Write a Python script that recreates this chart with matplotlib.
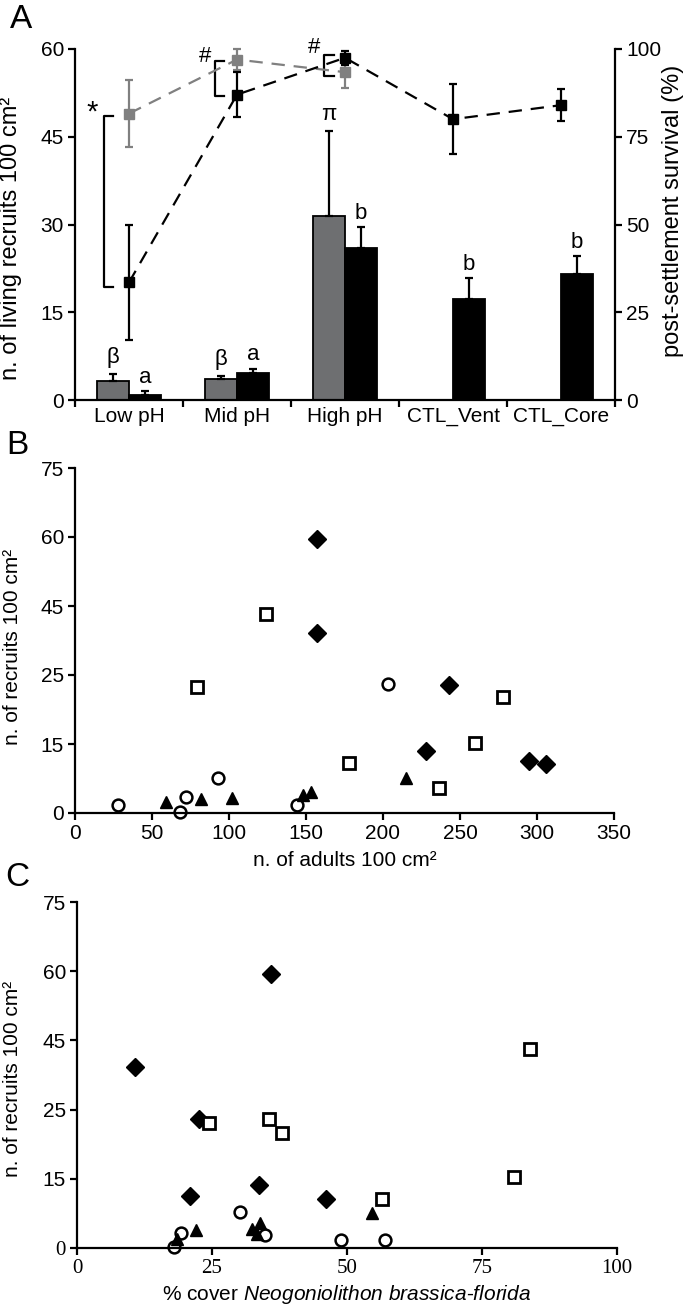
import matplotlib as mpl
mpl.use('Agg')
import matplotlib.pyplot as plt
from matplotlib import font_manager
import numpy as np

plt.rcParams['font.family'] = ['Liberation Sans', 'DejaVu Sans']
plt.rcParams['mathtext.fontset'] = 'custom'
plt.rcParams['mathtext.rm'] = 'Liberation Sans'
plt.rcParams['mathtext.it'] = 'Liberation Sans:italic'

installed = {f.name for f in font_manager.fontManager.ttflist}
narrow = 'Liberation Sans Narrow' if 'Liberation Sans Narrow' in installed else 'Liberation Sans'

# ---- panel A data ----
sites = ['Low pH', 'Mid pH', 'High pH', 'CTL_Vent', 'CTL_Core']
recruits_gray = [3.3, 3.6, 31.5]          # Low/Mid/High pH
recruits_gray_err = [1.1, 0.5, 14.5]
recruits_black = [0.9, 4.6, 26.0, 17.3, 21.5]
recruits_black_err = [0.6, 0.7, 3.5, 3.5, 3.1]
surv_gray = [81.6, 97.0, 93.4]
surv_gray_err = [9.5, 3.0, 4.5]
surv_black = [33.5, 87.0, 97.5, 80.0, 84.0]
surv_black_err = [16.5, 6.5, 2.0, 10.0, 4.5]
letters_gray = ['β', 'β', 'π']
letters_black = ['a', 'a', 'b', 'b', 'b']

# ---- panel B data (x = adults, y = recruits) ----
b_circ_x = [28, 68, 72, 93, 144, 203]
b_circ_y = [1.7, 0.2, 3.4, 7.7, 1.7, 28.0]
b_tri_x = [59, 81.5, 102, 148, 153, 215]
b_tri_y = [2.5, 3.0, 3.3, 4.0, 4.5, 7.6]
b_dia_x = [157, 157, 243, 228, 295, 306]
b_dia_y = [59.5, 39.2, 27.8, 13.5, 11.4, 10.7]
b_sq_x = [124, 79, 178, 236.5, 260, 278]
b_sq_y = [43.2, 27.5, 10.9, 5.4, 15.3, 25.2]

# ---- panel C data (x = % cover, y = recruits) ----
c_dia_x = [10.7, 35.9, 22.6, 20.9, 33.7, 46.2]
c_dia_y = [39.2, 59.4, 27.9, 11.2, 13.6, 10.6]
c_sq_x = [24.5, 35.5, 38.0, 56.4, 81.0, 83.9]
c_sq_y = [27.2, 28.0, 25.0, 10.7, 15.3, 43.1]
c_circ_x = [17.9, 19.2, 30.2, 34.8, 48.9, 57.1]
c_circ_y = [0.2, 3.3, 7.8, 2.9, 1.7, 1.7]
c_tri_x = [18.6, 22.0, 32.4, 33.9, 33.3, 54.6]
c_tri_y = [2.0, 3.8, 4.2, 5.4, 3.0, 7.6]

scatter_yticks = [0, 15, 30, 45, 60, 75]
scatter_ylabels = ['0', '15', '25', '45', '60', '75']

GRAY_BAR = '#6e6f71'
GRAY_LINE = '#808080'
W, H = 685, 1311
TICK_FS = 15

fig = plt.figure(figsize=(W / 100, H / 100), dpi=100)

def frac(left, right, top, bottom):
    return [left / W, 1 - bottom / H, (right - left) / W, (bottom - top) / H]

def style_axis(ax):
    for s in ['top', 'right']:
        ax.spines[s].set_visible(False)
    for s in ['left', 'bottom']:
        ax.spines[s].set_linewidth(1.6)
    ax.tick_params(width=1.6, length=5, direction='out', labelsize=TICK_FS, pad=3)
    for lab in ax.get_yticklabels():
        lab.set_fontfamily(narrow)

# ================= panel A =================
axA = fig.add_axes(frac(75, 615, 49, 400))
x = np.arange(len(sites))
bw = 0.3
axA.bar(x[:3] - bw / 2, recruits_gray, bw, color=GRAY_BAR, edgecolor='black', linewidth=1.3,
        yerr=[np.zeros(3), recruits_gray_err], error_kw=dict(ecolor='black', elinewidth=1.6, capsize=3, capthick=1.6))
axA.bar(x + bw / 2, recruits_black, bw, color='black', edgecolor='black', linewidth=1.3,
        yerr=[np.zeros(5), recruits_black_err], error_kw=dict(ecolor='black', elinewidth=1.6, capsize=3, capthick=1.6))
for i, t in enumerate(letters_gray):
    top = recruits_gray[i] + recruits_gray_err[i]
    axA.text(x[i] - bw / 2, top + 1.0, t, ha='center', va='bottom', fontsize=16)
for i, t in enumerate(letters_black):
    top = recruits_black[i] + recruits_black_err[i]
    axA.text(x[i] + bw / 2, top + 0.6, t, ha='center', va='bottom', fontsize=16)

axA.set_xlim(-0.5, 4.5)
axA.set_ylim(0, 60)
axA.set_yticks([0, 15, 30, 45, 60])
axA.set_xticks(np.arange(-0.5, 5, 1))
axA.set_xticklabels([])
axA.set_xticks(x, minor=True)
axA.set_xticklabels(sites, minor=True, fontsize=15)
axA.tick_params(axis='x', which='minor', length=0, pad=5)
style_axis(axA)
axA.set_ylabel('n. of living recruits 100 cm²', fontsize=17)
axA.yaxis.set_label_coords(-0.098, 0.46)

axR = axA.twinx()
axR.set_ylim(0, 100)
axR.set_yticks([0, 25, 50, 75, 100])
for s in ['top', 'left', 'bottom']:
    axR.spines[s].set_visible(False)
axR.spines['right'].set_linewidth(1.6)
axR.tick_params(width=1.6, length=5, labelsize=TICK_FS, pad=3)
for lab in axR.get_yticklabels():
    lab.set_fontfamily(narrow)
axR.errorbar(x[:3], surv_gray, yerr=surv_gray_err, color=GRAY_LINE, ls=(0, (6, 4)), lw=1.6,
             marker='s', ms=6.5, capsize=3, capthick=1.6, elinewidth=1.6, clip_on=False)
axR.errorbar(x, surv_black, yerr=surv_black_err, color='black', ls=(0, (6, 4)), lw=1.6,
             marker='s', ms=6.5, capsize=3, capthick=1.6, elinewidth=1.6, clip_on=False)
axR.set_ylabel('post-settlement survival (%)', fontsize=17, rotation=90)
axR.yaxis.set_label_coords(1.087, 0.54)

# significance brackets (x in category units, y in % survival)
brackets = [(-0.23, -0.15, 32.3, 80.9, '*', -0.34, 82.0, 21),
            (0.80, 0.88, 86.7, 96.5, '#', 0.70, 98.0, 16),
            (1.81, 1.90, 92.4, 98.4, '#', 1.71, 100.5, 16)]
for xv, xa, y0, y1, sym, tx, ty, fs in brackets:
    axR.plot([xa, xv, xv, xa], [y0, y0, y1, y1], color='black', lw=1.6, clip_on=False)
    axR.text(tx, ty, sym, ha='center', va='center', fontsize=fs, clip_on=False)

fig.text(21 / W, 1 - 19 / H, 'A', fontsize=24, ha='center', va='center')

# ================= panel B =================
axB = fig.add_axes(frac(75, 614, 468, 813))
mk = dict(ls='none', clip_on=False)
axB.plot(b_circ_x, b_circ_y, marker='o', ms=8.5, mfc='white', mec='black', mew=1.8, **mk)
axB.plot(b_tri_x, b_tri_y, marker='^', ms=9, color='black', **mk)
axB.plot(b_dia_x, b_dia_y, marker='D', ms=8.8, color='black', **mk)
axB.plot(b_sq_x, b_sq_y, marker='s', ms=8.5, mfc='white', mec='black', mew=2, **mk)
axB.set_xlim(0, 350)
axB.set_ylim(0, 75)
axB.set_xticks(range(0, 351, 50))
axB.set_yticks(scatter_yticks)
axB.set_yticklabels(scatter_ylabels)
style_axis(axB)
for lab in axB.get_xticklabels():
    lab.set_fontfamily(narrow)
axB.set_ylabel('n. of recruits 100 cm²', fontsize=15)
axB.yaxis.set_label_coords(-0.098, 0.48)
axB.set_xlabel('n. of adults 100 cm²', fontsize=15)
axB.xaxis.set_label_coords(0.5, -0.11)
fig.text(17 / W, 1 - 445 / H, 'B', fontsize=24, ha='center', va='center')

# ================= panel C =================
axC = fig.add_axes(frac(77, 617, 902, 1248))
axC.plot(c_dia_x, c_dia_y, marker='D', ms=8.8, color='black', **mk)
axC.plot(c_sq_x, c_sq_y, marker='s', ms=8.5, mfc='white', mec='black', mew=2, **mk)
axC.plot(c_circ_x, c_circ_y, marker='o', ms=8.5, mfc='white', mec='black', mew=1.8, **mk)
axC.plot(c_tri_x, c_tri_y, marker='^', ms=9, color='black', **mk)
axC.set_xlim(0, 100)
axC.set_ylim(0, 75)
axC.set_xticks([0, 25, 50, 75, 100])
axC.set_yticks(scatter_yticks)
axC.set_yticklabels(scatter_ylabels)
style_axis(axC)
for lab in axC.get_xticklabels():
    lab.set_fontfamily('Liberation Serif')
    lab.set_fontsize(15)
ylabs = axC.get_yticklabels()
ylabs[0].set_fontfamily('Liberation Serif')
axC.set_ylabel('n. of recruits 100 cm²', fontsize=15)
axC.yaxis.set_label_coords(-0.102, 0.49)
axC.set_xlabel(r'% cover $\mathit{Neogoniolithon\ brassica}$-$\mathit{florida}$', fontsize=15)
axC.xaxis.set_label_coords(0.5, -0.10)
fig.text(17 / W, 1 - 877 / H, 'C', fontsize=24, ha='center', va='center')

fig.savefig('out.png', dpi=100)
